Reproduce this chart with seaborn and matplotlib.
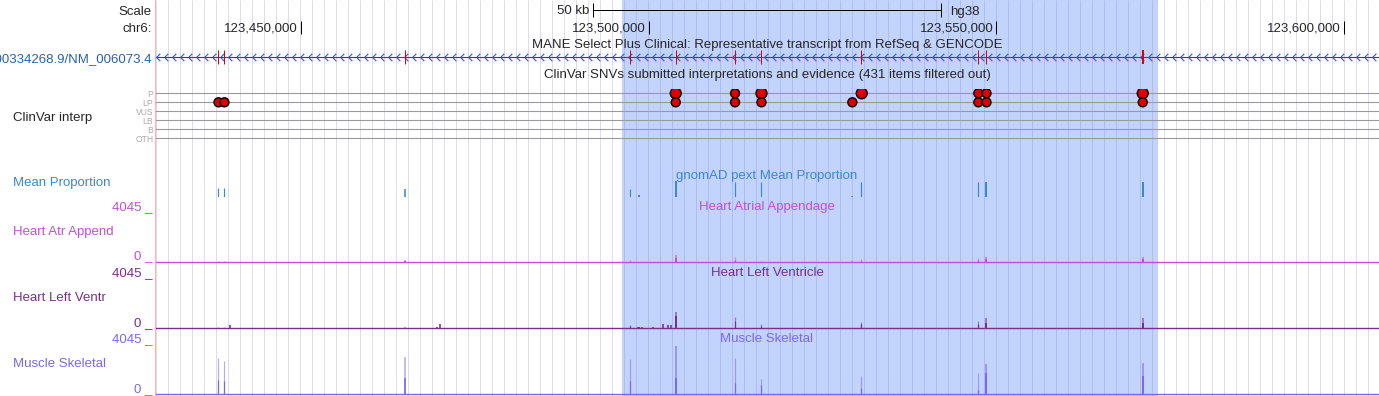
import numpy as np
import pandas as pd
import matplotlib
matplotlib.use("Agg")
import matplotlib.pyplot as plt
import matplotlib.transforms as mtransforms
from matplotlib.path import Path
import seaborn as sns

sns.set_theme(style="white")
plt.rcParams["font.family"] = ["Liberation Sans", "DejaVu Sans"]

# ---------------- data ----------------
view_start, view_end = 123429000, 123605030
highlight_start, highlight_end = 123496220, 123573230
scalebar_start, scalebar_end = 123491990, 123541990
ruler_ticks = [123450000, 123500000, 123550000, 123600000]
ruler_labels = ["123,450,000", "123,500,000", "123,550,000", "123,600,000"]

exon_pos = [123438110, 123438970, 123465000, 123497300, 123503890, 123512420,
            123516220, 123530600, 123547410, 123548580, 123571050]

clinvar_rows = ["P", "LP", "VUS", "LB", "B", "OTH"]
cv_P_pos = [123503890, 123512420, 123516220, 123530640, 123547410, 123548580, 123571050]
cv_P_items = [3, 1, 3, 3, 1, 1, 3]
cv_LP_pos = [123438130, 123438990, 123503890, 123512420, 123516220, 123529290,
             123547410, 123548580, 123571050]
cv_LP_items = [1, 1, 1, 1, 1, 1, 1, 1, 1]

pext_pos = [123438110, 123438970, 123465000, 123497300, 123498570, 123503890, 123512420,
            123516220, 123529290, 123530600, 123547410, 123548580, 123571050]
mean_prop = [0.52, 0.52, 0.46, 0.46, 0.15, 0.97, 0.92, 0.92, 0.08, 0.92, 0.92, 0.92, 0.92]
atr_max = [80, 80, 160, 160, 0, 555, 400, 80, 80, 240, 340, 400, 450]
atr_mean = [40, 40, 80, 80, 0, 300, 200, 40, 40, 120, 170, 250, 250]
lv_max = [80, 80, 80, 240, 100, 1320, 930, 310, 0, 470, 540, 780, 780]
lv_mean = [40, 40, 40, 160, 80, 950, 600, 200, 0, 300, 300, 450, 450]
mus_max = [2900, 2620, 2935, 2775, 0, 3855, 2855, 1190, 0, 1430, 1665, 2380, 2460]
mus_mean = [1110, 1080, 1270, 1080, 0, 1300, 870, 740, 0, 480, 340, 1700, 1450]
lv_extra_pos = [123439790, 123469560, 123469920, 123498395, 123498970, 123500620,
                123502060, 123502780, 123503210]
lv_extra_val = [240, 120, 300, 120, 120, 80, 320, 240, 240]
track_max = 4045

# ---------------- styles ----------------
W, H = 1379, 396
PX = 0.72  # points per pixel at dpi 100
bar_px = [1.2, 1.2, 1.6, 1.2, 2, 2, 1.2, 1.2, 1.6, 1.2, 1.2, 2, 2]
FS = 9.5
c_mp = "#3b88cc"
c_atr = "#c050d4"
c_lv = "#7a2e8c"
c_mus = "#7b68ee"
c_gene = "#2a62aa"

fig = plt.figure(figsize=(W / 100, H / 100), dpi=100)
L, R = 155, 1379


def axes_px(top, bottom):
    return fig.add_axes([L / W, 1 - bottom / H, (R - L) / W, (bottom - top) / H])


def clean(ax):
    ax.set_facecolor("none")
    for s in ax.spines.values():
        s.set_visible(False)
    ax.set_xticks([])
    ax.set_yticks([])
    ax.set_xlim(view_start, view_end)


def ftext(x, y, s, **kw):
    fig.text(x / W, 1 - y / H, s, fontsize=kw.pop("fontsize", FS), va=kw.pop("va", "baseline"), **kw)


# background axis in pixel-y units
ax = axes_px(0, H)
clean(ax)
ax.set_ylim(H, 0)
bp_px = (view_end - view_start) / (R - L)
ax.axvspan(highlight_start, highlight_end, color="#c3d4fc", zorder=0, lw=0)
grid = view_start + (np.arange(0, 103) * 12 + 0.7) * bp_px
ax.vlines(grid, 0, H, color="#8080d0", alpha=0.28, lw=PX, zorder=1)

# scale bar and ruler
ax.hlines(9.7, scalebar_start, scalebar_end, color="black", lw=PX)
ax.vlines([scalebar_start, scalebar_end], 3, 16.5, color="black", lw=PX)
ax.text(scalebar_start, 14.5, "50 kb", ha="right", va="baseline", fontsize=FS,
        transform=mtransforms.offset_copy(ax.transData, fig, x=-4, units="dots"))
ax.text(scalebar_end, 14.5, "hg38", ha="left", va="baseline", fontsize=FS,
        transform=mtransforms.offset_copy(ax.transData, fig, x=9, units="dots"))
ax.vlines(ruler_ticks, 20.5, 33.5, color="black", lw=PX)
for t, lab in zip(ruler_ticks, ruler_labels):
    ax.text(t, 31.7, lab, ha="right", va="baseline", fontsize=FS,
            transform=mtransforms.offset_copy(ax.transData, fig, x=-3, units="dots"))

# gene model
ax.hlines(57, view_start, view_end, color="#e00000", lw=PX * 1.1, zorder=2)
chev = Path([(0.25, 0.5), (-0.25, 0.0), (0.25, -0.5)], [Path.MOVETO, Path.LINETO, Path.LINETO])
chev_x = view_start + (2.7 + np.arange(0, 153) * 8) * bp_px
ax.plot(chev_x, np.full_like(chev_x, 57.0), ls="none", marker=chev, ms=5.4,
        mfc="none", mec=c_gene, mew=0.8, zorder=3)
exon_w = [PX] * (len(exon_pos) - 1) + [2 * PX]
for p, w in zip(exon_pos, exon_w):
    ax.vlines(p, 50, 64, color="#e00000", lw=w, zorder=4)
mid = 0.5 * (view_start + view_end)
ax.text(mid, 48, "MANE Select Plus Clinical: Representative transcript from RefSeq & GENCODE",
        ha="center", va="baseline", fontsize=FS)
ax.text(mid, 78.3, "ClinVar SNVs submitted interpretations and evidence (431 items filtered out)",
        ha="center", va="baseline", fontsize=FS)
ax.text(mid, 179, "gnomAD pext Mean Proportion", ha="center", va="baseline", fontsize=FS, color=c_mp)
ax.text(mid, 210, "Heart Atrial Appendage", ha="center", va="baseline", fontsize=FS, color=c_atr)
ax.text(mid, 276.5, "Heart Left Ventricle", ha="center", va="baseline", fontsize=FS, color=c_lv)
ax.text(mid, 342.5, "Muscle Skeletal", ha="center", va="baseline", fontsize=FS, color=c_mus)

# ClinVar lollipop track
axc = axes_px(88.8, 142.8)
clean(axc)
axc.hlines(range(len(clinvar_rows)), view_start, view_end, color="#9a9a9a", lw=PX * 1.1, zorder=1)
cv = pd.DataFrame({
    "pos": cv_P_pos + cv_LP_pos,
    "row": [clinvar_rows.index("P")] * len(cv_P_pos) + [clinvar_rows.index("LP")] * len(cv_LP_pos),
    "items": cv_P_items + cv_LP_items,
})
sns.scatterplot(data=cv, x="pos", y="row", size="items", sizes={1: 42, 3: 62}, color="#dd0000",
                edgecolor="black", linewidth=1.0, legend=False, ax=axc, zorder=3)
axc.set_xlim(view_start, view_end)
axc.set_ylim(len(clinvar_rows) - 0.5, -0.5)
axc.set_xlabel("")
axc.set_ylabel("")
axc.set_yticks(range(len(clinvar_rows)))
axc.set_yticklabels(clinvar_rows, fontsize=6.2, color="#aaaaaa")
axc.tick_params(axis="y", length=0, pad=1.2)

# pext mean proportion
axm = axes_px(180.5, 197)
clean(axm)
axm.set_ylim(0, 1)
axm.vlines(pext_pos, 0, mean_prop, color=c_mp, lw=[b * PX for b in bar_px])


def tissue(top, bottom, vmax, vmean, color, extra=None):
    a = axes_px(top, bottom)
    clean(a)
    a.set_ylim(0, track_max)
    lw = [b * PX for b in bar_px]
    a.vlines(pext_pos, 0, vmax, color=color, alpha=0.55, lw=lw)
    a.vlines(pext_pos, 0, vmean, color=color, lw=lw)
    if extra is not None:
        a.vlines(extra[0], 0, extra[1], color=color, lw=1.6 * PX)
    a.axhline(0, color=color, lw=1.4 * PX, clip_on=False)
    return a


tissue(211, 262.3, atr_max, atr_mean, c_atr)
tissue(277, 328.3, lv_max, lv_mean, c_lv, (lv_extra_pos, lv_extra_val))
tissue(343.3, 394.3, mus_max, mus_mean, c_mus)

# left label column
fig.add_artist(plt.Line2D([154.5 / W, 154.5 / W], [0, 1], color="#ffb0b0", lw=PX))
ftext(152, 15, "Scale", ha="right")
ftext(151.5, 31.7, "chr6:", ha="right")
ftext(152, 62, "ENST00000334268.9/NM_006073.4", ha="right", color=c_gene)
ftext(13, 120.5, "ClinVar interp", ha="left")
ftext(13, 185.7, "Mean Proportion", ha="left", color=c_mp)
ftext(13, 235, "Heart Atr Append", ha="left", color=c_atr)
ftext(13, 300.7, "Heart Left Ventr", ha="left", color=c_lv)
ftext(13, 366.7, "Muscle Skeletal", ha="left", color=c_mus)
for ytop, ybot, col in [(210, 259.5, c_atr), (276, 325.7, c_lv), (342, 392, c_mus)]:
    ftext(152.5, ytop, "4045 _", ha="right", color=col)
    ftext(152.5, ybot, "0 _", ha="right", color=col)

fig.savefig("out.png", dpi=100)
